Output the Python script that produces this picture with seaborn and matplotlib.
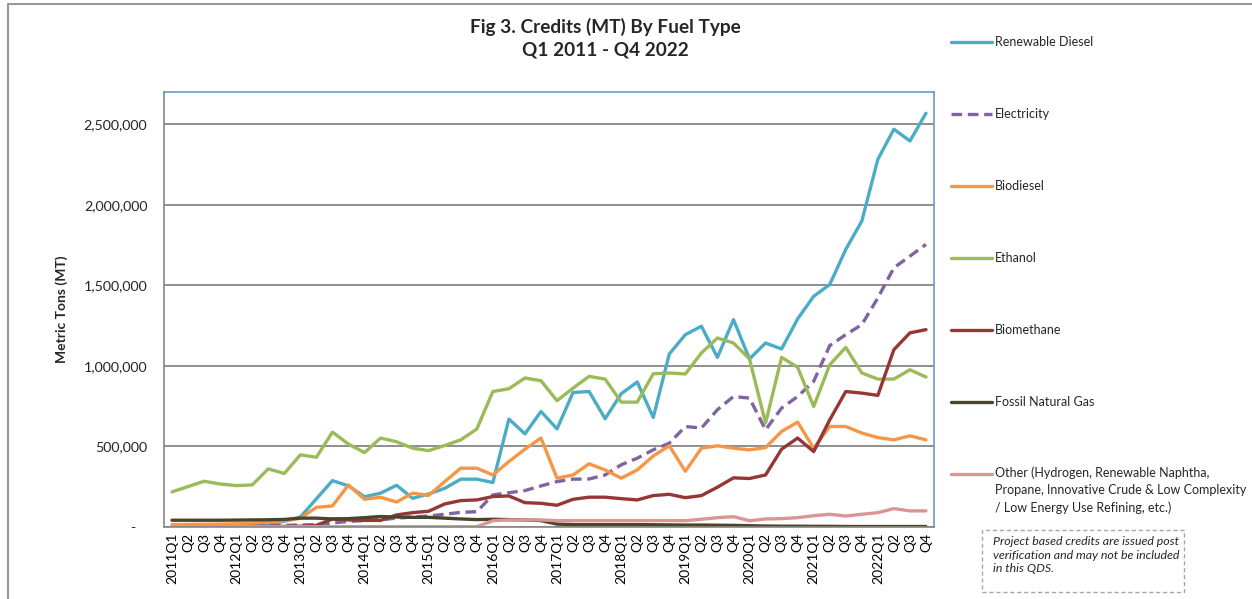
import matplotlib
matplotlib.use("Agg")
import matplotlib.pyplot as plt
import seaborn as sns
import pandas as pd
import numpy as np
from matplotlib.lines import Line2D
from matplotlib.patches import Rectangle
from matplotlib.ticker import FuncFormatter, MultipleLocator

# ---------------- data ----------------
years = [2011, 2012, 2013, 2014, 2015, 2016, 2017, 2018, 2019, 2020, 2021, 2022]
quarter_labels = []
for yr in years:
    quarter_labels += [f"{yr}Q1", "Q2", "Q3", "Q4"]

renewable_diesel = [0, 0, 0, 0, 5000, 10000, 20000, 35000,
                    62000, 175000, 288000, 255000, 188000, 210000, 259000, 178000,
                    205000, 240000, 297000, 297000, 276000, 670000, 578000, 717000,
                    609000, 835000, 841000, 672000, 827000, 900000, 680000, 1074000,
                    1194000, 1246000, 1053000, 1287000, 1043000, 1142000, 1105000, 1292000,
                    1432000, 1505000, 1723000, 1899000, 2282000, 2469000, 2396000, 2568000]
electricity = [3000, 3000, 4000, 5000, 6000, 7000, 8000, 10000,
               12000, 15000, 25000, 35000, 40000, 45000, 55000, 62000,
               68000, 79000, 91000, 95000, 199000, 213000, 226000, 255000,
               282000, 297000, 298000, 323000, 386000, 427000, 479000, 520000,
               624000, 614000, 728000, 810000, 800000, 603000, 738000, 810000,
               904000, 1126000, 1194000, 1256000, 1422000, 1609000, 1681000, 1754000]
biodiesel = [15000, 16000, 17000, 18000, 20000, 24000, 30000, 40000,
             54000, 122000, 131000, 261000, 172000, 185000, 155000, 210000,
             196000, 282000, 365000, 365000, 323000, 406000, 483000, 552000,
             303000, 323000, 392000, 354000, 303000, 354000, 441000, 504000,
             346000, 489000, 504000, 489000, 479000, 493000, 593000, 651000,
             489000, 624000, 624000, 583000, 555000, 541000, 566000, 541000]
ethanol = [218000, 251000, 284000, 267000, 257000, 261000, 361000, 332000,
           448000, 433000, 589000, 514000, 462000, 552000, 529000, 489000,
           474000, 506000, 541000, 608000, 841000, 858000, 925000, 908000,
           784000, 862000, 935000, 918000, 775000, 775000, 951000, 956000,
           950000, 1080000, 1173000, 1142000, 1043000, 645000, 1053000, 991000,
           748000, 1007000, 1115000, 956000, 918000, 918000, 976000, 931000]
biomethane = [1000, 1000, 1000, 2000, 2000, 3000, 3000, 4000,
              5000, 10000, 50000, 44000, 41000, 41000, 75000, 89000,
              98000, 143000, 164000, 168000, 189000, 193000, 151000, 147000,
              135000, 172000, 185000, 185000, 176000, 168000, 195000, 203000,
              182000, 195000, 247000, 305000, 301000, 323000, 483000, 552000,
              468000, 665000, 841000, 831000, 817000, 1101000, 1205000, 1225000]
fossil_natural_gas = [42000, 42000, 42000, 42000, 43000, 44000, 45000, 47000,
                      55000, 55000, 50000, 52000, 58000, 65000, 62000, 60000,
                      60000, 55000, 50000, 46000, 48000, 46000, 44000, 40000,
                      18000, 15000, 15000, 15000, 15000, 15000, 14000, 13000,
                      12000, 12000, 11000, 10000, 8000, 6000, 5000, 5000,
                      4000, 4000, 3000, 3000, 3000, 3000, 3000, 3000]
other = [2000, 2000, 2000, 2000, 2000, 2000, 2000, 2000,
         2000, 2000, 2000, 2000, 2000, 2000, 2000, 2000,
         2000, 2000, 2000, 2000, 39000, 44000, 44000, 44000,
         39000, 40000, 40000, 40000, 40000, 40000, 40000, 40000,
         39000, 48000, 58000, 64000, 39000, 50000, 52000, 58000,
         70000, 79000, 68000, 79000, 89000, 114000, 100000, 100000]

series_names = ["Renewable Diesel", "Electricity", "Biodiesel", "Ethanol",
                "Biomethane", "Fossil Natural Gas",
                "Other (Hydrogen, Renewable Naphtha,\nPropane, Innovative Crude & Low Complexity\n/ Low Energy Use Refining, etc.)"]
series_values = [renewable_diesel, electricity, biodiesel, ethanol,
                 biomethane, fossil_natural_gas, other]
colors = ["#4BACC6", "#8064A2", "#F79646", "#9BBB59", "#953735", "#4A452A", "#D99694"]

title_text = "Fig 3. Credits (MT) By Fuel Type\nQ1 2011 - Q4 2022"
ylabel_text = "Metric Tons (MT)"
note_text = "Project based credits are issued post\nverification and may not be included\nin this QDS."

# ---------------- frame ----------------
rows = []
for name, vals in zip(series_names, series_values):
    for i, v in enumerate(vals):
        rows.append({"idx": i, "value": v, "fuel": name})
df = pd.DataFrame(rows)

sns.set_theme(style="white")
plt.rcParams["font.family"] = ["Lato", "DejaVu Sans"]

W, H = 1252, 599
fig = plt.figure(figsize=(W / 100, H / 100), dpi=100)
L, R, T, B = 164, 934, 92, 527
ax = fig.add_axes([L / W, 1 - B / H, (R - L) / W, (B - T) / H])

palette = dict(zip(series_names, colors))
dashes = {n: "" for n in series_names}
dashes["Electricity"] = (3.2, 1.7)

sns.lineplot(data=df, x="idx", y="value", hue="fuel", style="fuel",
             hue_order=series_names, style_order=series_names,
             palette=palette, dashes=dashes, linewidth=2.4,
             legend=False, ax=ax, sort=False)
for ln in ax.get_lines():
    ln.set_solid_capstyle("round")
    ln.set_solid_joinstyle("round")

ax.set_xlim(-0.5, len(quarter_labels) - 0.5)
ax.set_ylim(0, 2700000)

ax.set_xticks(np.arange(len(quarter_labels)))
ax.set_xticklabels(quarter_labels, rotation=90, fontsize=10, color="#000000")
ax.set_xticks(np.arange(len(quarter_labels) + 1) - 0.5, minor=True)
ax.tick_params(axis="x", which="major", length=0, pad=4)
ax.tick_params(axis="x", which="minor", length=5, width=1, color="#868686", direction="out")

ax.yaxis.set_major_locator(MultipleLocator(500000))
ax.yaxis.set_major_formatter(FuncFormatter(lambda v, p: "-   " if v == 0 else f"{int(v):,}"))
ax.tick_params(axis="y", which="major", length=5, width=1, color="#868686",
               direction="out", labelsize=10.3, pad=7)
ax.grid(axis="y", color="#868686", linewidth=1.3)
ax.grid(axis="x", visible=False)
ax.set_axisbelow(True)

ax.set_xlabel("")
ax.set_ylabel(ylabel_text, fontsize=10, fontweight="bold")
ax.yaxis.set_label_coords((68 - L) / (R - L), 0.5)

for s in ["left", "bottom"]:
    ax.spines[s].set_color("#868686")
    ax.spines[s].set_linewidth(1.2)
for s in ["top", "right"]:
    ax.spines[s].set_color("#6A9BD3")
    ax.spines[s].set_linewidth(1.2)
ax.set_facecolor("white")

fig.text(605 / W, 1 - 38.5 / H, title_text, ha="center", va="center",
         fontsize=13.7, fontweight="bold", linespacing=1.4)

# legend (manual, wide spacing)
leg_y = [42, 114, 186, 258, 330, 402, 474]
for name, col, y in zip(series_names, colors, leg_y):
    ls = (0, (3.2, 1.7)) if name == "Electricity" else "-"
    fig.add_artist(Line2D([951 / W, 992 / W], [1 - y / H, 1 - y / H],
                          transform=fig.transFigure, color=col, lw=2.4, ls=ls,
                          solid_capstyle="round"))
    if "\n" in name:
        fig.text(995 / W, 1 - (y - 8) / H, name, ha="left", va="top",
                 fontsize=9, linespacing=1.55)
    else:
        fig.text(995 / W, 1 - y / H, name, ha="left", va="center", fontsize=9)

# note box
fig.add_artist(Rectangle((981.5 / W, 1 - 591.7 / H), (1184 - 981.5) / W, (591.7 - 529.5) / H,
                         transform=fig.transFigure, fill=False, edgecolor="#A6A6A6",
                         lw=1, ls=(0, (3, 2))))
fig.text(993 / W, 1 - 536 / H, note_text, ha="left", va="top", fontsize=8.9,
         style="italic", linespacing=1.3)

# outer border
fig.add_artist(Line2D([7.5 / W, 7.5 / W, 1.0], [0.0, 1 - 3.5 / H, 1 - 3.5 / H],
                      transform=fig.transFigure, color="#999999", lw=1.5))

fig.savefig("out.png", dpi=100, facecolor="white")
